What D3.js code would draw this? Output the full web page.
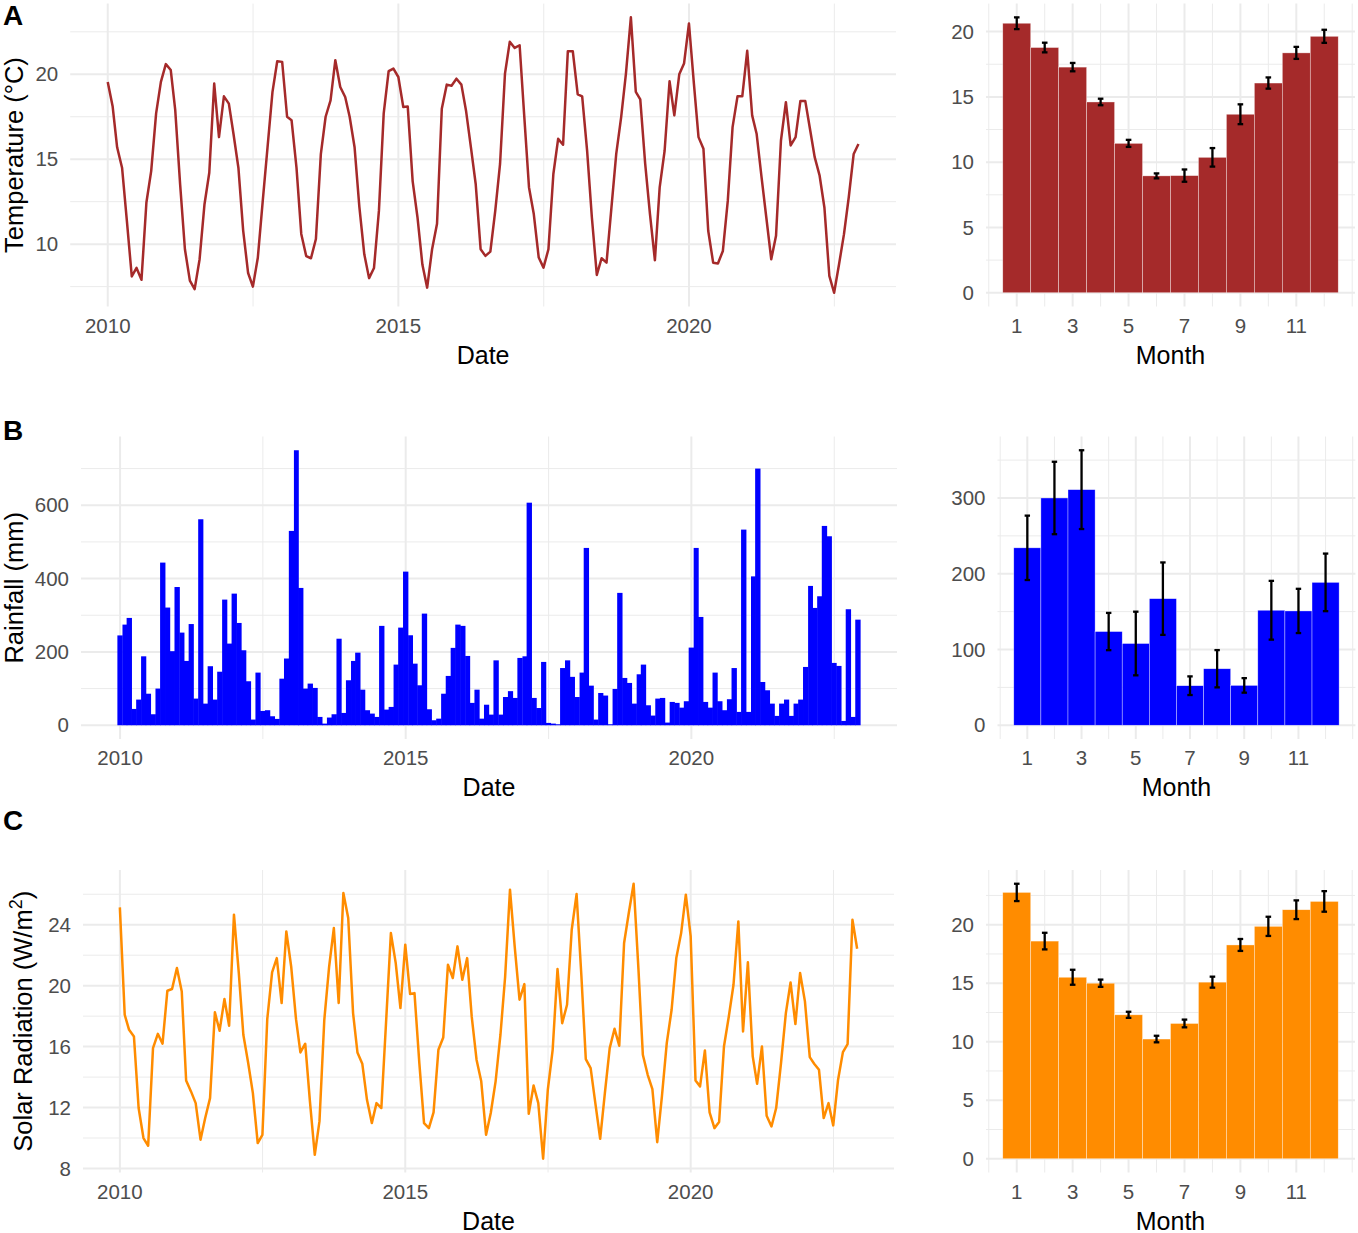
<!DOCTYPE html>
<html>
<head>
<meta charset="utf-8">
<script src="https://cdn.jsdelivr.net/npm/d3@7"></script>
<style>
  html, body { margin: 0; padding: 0; background: #fff; }
  svg { display: block; font-family: "Liberation Sans", Arial, sans-serif; }
</style>
</head>
<body>
<div id="chart"></div>
<script>
// ---------------------------------------------------------
// DATA (monthly series Jan 2010 - Dec 2022)
// ---------------------------------------------------------
const temperature = [
  19.55, 18.1, 15.7, 14.5, 11.4, 8.1, 8.6, 7.9, 12.45, 14.3, 17.7, 19.55,
  20.6, 20.25, 17.9, 13.5, 9.7, 7.85, 7.35, 9.1, 12.35, 14.2, 19.45, 16.3,
  18.7, 18.27, 16.5, 14.5, 10.8, 8.3, 7.5, 9.2, 12.55, 15.7, 18.95, 20.77,
  20.73, 17.5, 17.3, 14.5, 10.6, 9.3, 9.17, 10.3, 15.3, 17.5, 18.46, 20.83,
  19.25, 18.66, 17.5, 15.7, 12.2, 9.4, 8.0, 8.6, 11.97, 17.7, 20.18, 20.33,
  19.84, 18.07, 18.1, 13.7, 11.6, 8.8, 7.44, 9.7, 11.2, 17.97, 19.39, 19.33,
  19.74, 19.39, 17.87, 15.7, 13.54, 9.7, 9.31, 9.56, 11.97, 14.72, 20.04, 21.91,
  21.55, 21.71, 17.68, 13.34, 11.77, 9.21, 8.62, 9.7, 14.13, 16.2, 15.85, 21.36,
  21.36, 18.82, 18.7, 15.5, 11.57, 8.19, 9.17, 8.91, 12.16, 15.31, 17.48, 20.04,
  23.35, 18.96, 18.52, 14.72, 11.77, 9.05, 13.34, 15.5, 19.59, 17.58, 20.0, 20.63,
  22.99, 19.45, 16.3, 15.61, 10.79, 8.91, 8.86, 9.6, 12.56, 16.89, 18.7, 18.7,
  21.38, 17.58, 16.5, 13.94, 11.57, 9.11, 10.49, 16.1, 18.36, 15.81, 16.3, 18.42,
  18.42, 16.69, 15.12, 14.03, 12.16, 8.13, 7.14, 8.82, 10.59, 12.76, 15.31, 15.9
];

const rainfall = [
  245, 274.5, 292.7, 44.5, 70, 188, 86, 30, 100, 443.6, 321, 202,
  377, 252.7, 175.4, 276, 72.7, 561.8, 59, 161, 70, 146, 342.7, 222.7,
  359, 279, 204.5, 120, 15.5, 143.6, 39, 41, 24.5, 17.3, 127, 182,
  530, 750, 374.5, 100, 113.6, 101.8, 22.7, 4.5, 21, 30, 236, 33.6,
  122.7, 175.4, 198, 97, 41, 31.8, 22.7, 271, 42.7, 50, 165.4, 266.3,
  419, 245.4, 168, 109, 304.5, 43.6, 13.6, 18, 86, 134.5, 211, 274.5,
  271, 189, 61, 97, 18, 56, 29, 177, 29, 77, 93, 74.5,
  183.6, 188, 607, 74.5, 47, 172.7, 6.4, 4.5, 2.7, 156, 177, 132,
  77, 143.6, 483.6, 108, 15.5, 88, 81, 2.7, 99, 361, 129, 115.4,
  59, 139, 165.4, 54.5, 26.4, 72.7, 74.5, 7.3, 63.6, 61, 48, 65.5,
  211.8, 483.6, 295.4, 63.6, 48, 143.6, 65.5, 41, 71, 156, 36.4, 533.6,
  36.4, 406, 700, 118, 95.4, 59, 25.5, 59, 70, 25.5, 59, 70,
  159, 380, 320, 351.8, 543.6, 515.4, 170, 161.8, 11.8, 316.4, 22.7, 288
];

const solar = [
  25.14, 18.09, 17.1, 16.67, 11.97, 10.0, 9.49, 15.9, 16.84, 16.19, 19.67, 19.78,
  21.16, 19.62, 13.78, 13.06, 12.29, 9.89, 11.31, 12.62, 18.25, 17.04, 19.12, 17.37,
  24.66, 20.83, 16.78, 14.92, 12.95, 9.67, 10.21, 17.8, 20.87, 21.81, 18.86, 23.56,
  21.26, 17.8, 15.62, 16.19, 12.4, 8.9, 11.09, 17.76, 21.26, 23.78, 18.86, 26.08,
  24.44, 18.2, 15.62, 14.88, 12.51, 10.98, 12.29, 11.97, 17.76, 23.45, 21.48, 18.53,
  22.69, 19.45, 19.51, 14.92, 10.98, 10.65, 11.68, 15.79, 16.6, 21.37, 20.5, 22.58,
  20.39, 21.81, 17.98, 15.14, 13.72, 10.21, 11.64, 13.72, 16.78, 20.6, 26.3, 22.58,
  19.08, 20.1, 11.59, 13.45, 12.29, 8.64, 13.17, 15.79, 21.09, 17.54, 18.75, 23.67,
  26.01, 20.6, 15.18, 14.59, 12.29, 9.95, 12.95, 15.9, 17.17, 16.06, 22.8, 24.77,
  26.69, 21.05, 15.47, 14.15, 13.21, 9.73, 12.73, 16.23, 18.42, 21.81, 23.45, 25.97,
  23.23, 13.78, 13.39, 15.75, 11.68, 10.65, 11.05, 16.01, 17.98, 20.06, 24.22, 17.0,
  21.53, 15.36, 13.56, 16.01, 11.46, 10.76, 11.97, 14.92, 18.2, 20.21, 17.48, 20.83,
  18.97, 15.31, 14.88, 14.48, 11.31, 12.29, 10.83, 13.83, 15.64, 16.17, 24.33, 22.42
];

// monthly means and standard errors
const months     = [1, 2, 3, 4, 5, 6, 7, 8, 9, 10, 11, 12];
const tempMean   = [20.64, 18.78, 17.28, 14.61, 11.44, 8.95, 8.97, 10.37, 13.67, 16.06, 18.37, 19.64];
const tempSe     = [0.45, 0.37, 0.32, 0.25, 0.27, 0.19, 0.47, 0.71, 0.76, 0.43, 0.46, 0.5];
const rainMean   = [234.2, 300, 311, 123.7, 107.9, 167.1, 52.2, 74.6, 52.6, 151.8, 150.9, 188.6];
const rainSe     = [42.5, 47.8, 52, 24.6, 42, 47.8, 12.3, 24.6, 9.6, 38.8, 29.2, 38];
const solarMean  = [22.76, 18.6, 15.51, 15.0, 12.3, 10.23, 11.56, 15.09, 18.27, 19.86, 21.28, 21.99];
const solarSe    = [0.74, 0.71, 0.64, 0.31, 0.26, 0.28, 0.33, 0.47, 0.51, 0.82, 0.8, 0.88];

// tick labels
const yearTicks     = [2010, 2015, 2020];
const monthTicks    = [1, 3, 5, 7, 9, 11];
const tempTicks     = [10, 15, 20];
const rainTicks     = [0, 200, 400, 600];
const solarTicks    = [8, 12, 16, 20, 24];
const tempBarTicks  = [0, 5, 10, 15, 20];
const rainBarTicks  = [0, 100, 200, 300];
const solarBarTicks = [0, 5, 10, 15, 20];

const dates = d3.timeMonth.range(new Date(2010, 0, 1), new Date(2023, 0, 1));

// ---------------------------------------------------------
// SETUP
// ---------------------------------------------------------
const width = 1358, height = 1233;
const GRID = "#EBEBEB", TICK = "#4D4D4D";

const svg = d3.select("#chart").append("svg")
    .attr("width", width)
    .attr("height", height);

svg.append("rect").attr("width", width).attr("height", height).attr("fill", "#fff");

const panels = [
  { tag: "A", tagY: 25, top: 3.6, bottom: 306.5, lineX: [70.2, 896], barX: [986, 1355],
    values: temperature, kind: "line", color: "#A52A2A", ticks: tempTicks,
    title: "Temperature (°C)", titleX: 22.5,
    mean: tempMean, se: tempSe, barTicks: tempBarTicks },
  { tag: "B", tagY: 440, top: 436.5, bottom: 739, lineX: [81, 897], barX: [997.5, 1355.4],
    values: rainfall, kind: "bar", color: "#0000FF", ticks: rainTicks,
    title: "Rainfall (mm)", titleX: 22.5,
    mean: rainMean, se: rainSe, barTicks: rainBarTicks },
  { tag: "C", tagY: 830, top: 870, bottom: 1172.5, lineX: [83, 894], barX: [986, 1355],
    values: solar, kind: "line", color: "#FF8C00", ticks: solarTicks,
    title: "Solar Radiation (W/m", sup: "2", titleX: 31.5,
    mean: solarMean, se: solarSe, barTicks: solarBarTicks }
];

// ---------------------------------------------------------
// HELPERS
// ---------------------------------------------------------
function expand(lo, hi) {
  const d = (hi - lo) * 0.05;
  return [lo - d, hi + d];
}

// ggplot-style minor breaks: midpoints of majors extended by one step
function minorBreaks(major, domain) {
  const step = major[1] - major[0];
  const ext = [major[0] - step, ...major, major[major.length - 1] + step];
  const out = [];
  for (let i = 0; i < ext.length - 1; i++) out.push(ext[i], (ext[i] + ext[i + 1]) / 2);
  out.push(ext[ext.length - 1]);
  return out.filter(v => v >= domain[0] && v <= domain[1] && !major.includes(v));
}

function yearToDate(y) {
  const a = new Date(Math.floor(y), 0, 1), b = new Date(Math.floor(y) + 1, 0, 1);
  return new Date(+a + (+b - +a) * (y - Math.floor(y)));
}

function grid(g, x, y, xMajor, xMinor, yMajor, yMinor) {
  const [x0, x1] = x.range(), [y0, y1] = y.range();
  const h = (vals, w) => g.append("g").selectAll("line").data(vals).enter().append("line")
      .attr("x1", x0).attr("x2", x1)
      .attr("y1", d => y(d)).attr("y2", d => y(d))
      .attr("stroke", GRID).attr("stroke-width", w);
  const v = (vals, w) => g.append("g").selectAll("line").data(vals).enter().append("line")
      .attr("y1", y0).attr("y2", y1)
      .attr("x1", d => x(d)).attr("x2", d => x(d))
      .attr("stroke", GRID).attr("stroke-width", w);
  h(yMinor, 1); v(xMinor, 1);
  h(yMajor, 2); v(xMajor, 2);
}

function yLabels(g, y, ticks, left) {
  g.append("g").selectAll("text").data(ticks).enter().append("text")
      .attr("x", left - 12)
      .attr("y", d => y(d))
      .attr("dy", "0.35em")
      .attr("text-anchor", "end")
      .style("font-size", "20.5px")
      .style("fill", TICK)
      .text(d => d);
}

function xLabels(g, x, ticks, bottom, fmt) {
  g.append("g").selectAll("text").data(ticks).enter().append("text")
      .attr("x", d => x(d))
      .attr("y", bottom + 26)
      .attr("text-anchor", "middle")
      .style("font-size", "20.5px")
      .style("fill", TICK)
      .text(fmt);
}

function axisTitle(g, text, x, y) {
  g.append("text")
      .attr("x", x).attr("y", y)
      .attr("text-anchor", "middle")
      .style("font-size", "25px")
      .style("fill", "#000")
      .text(text);
}

// ---------------------------------------------------------
// DRAW ROWS
// ---------------------------------------------------------
panels.forEach(p => {
  const g = svg.append("g");

  // ---------- time series ----------
  const first = dates[0], last = dates[dates.length - 1];
  const pad = p.kind === "bar" ? 12.6 * 864e5 : 0;
  const xd = expand(+first - pad, +last + pad);
  const x = d3.scaleTime()
      .domain([new Date(xd[0]), new Date(xd[1])])
      .range(p.lineX);

  const yd = p.kind === "bar" ? expand(0, d3.max(p.values)) : expand(d3.min(p.values), d3.max(p.values));
  const y = d3.scaleLinear().domain(yd).range([p.bottom, p.top]);

  const yearMinor = minorBreaks(yearTicks, [2009, 2024])
      .map(yearToDate)
      .filter(d => d >= x.domain()[0] && d <= x.domain()[1]);
  grid(g, x, y, yearTicks.map(yearToDate), yearMinor, p.ticks, minorBreaks(p.ticks, yd));

  if (p.kind === "line") {
    const line = d3.line()
        .x((d, i) => x(dates[i]))
        .y(d => y(d));
    g.append("path")
        .datum(p.values)
        .attr("d", line)
        .attr("fill", "none")
        .attr("stroke", p.color)
        .attr("stroke-width", 2.5)
        .attr("stroke-linejoin", "round")
        .attr("stroke-linecap", "butt");
  } else {
    g.append("g").selectAll("rect").data(p.values).enter().append("rect")
        .attr("x", (d, i) => {
          const w = x(d3.timeMonth.offset(dates[i], 1)) - x(dates[i]);
          return x(dates[i]) - w / 2 - 0.25;
        })
        .attr("width", (d, i) => x(d3.timeMonth.offset(dates[i], 1)) - x(dates[i]) + 0.5)
        .attr("y", d => y(d))
        .attr("height", d => y(0) - y(d))
        .attr("fill", p.color);
  }

  yLabels(g, y, p.ticks, p.lineX[0]);
  xLabels(g, x, yearTicks.map(yearToDate), p.bottom, d => d.getFullYear());
  axisTitle(g, "Date", (p.lineX[0] + p.lineX[1]) / 2, p.bottom + 57);

  // y title (rotated)
  const cy = (p.top + p.bottom) / 2;
  const t = g.append("text")
      .attr("transform", `translate(${p.titleX},${cy}) rotate(-90)`)
      .attr("text-anchor", "middle")
      .style("font-size", "25.5px")
      .style("fill", "#000");
  t.append("tspan").text(p.title);
  if (p.sup) {
    t.append("tspan").attr("dy", -10).style("font-size", "18px").text(p.sup);
    t.append("tspan").attr("dy", 10).text(")");
  }

  // panel tag
  g.append("text")
      .attr("x", 3).attr("y", p.tagY)
      .style("font-size", "28px")
      .style("font-weight", "bold")
      .style("fill", "#000")
      .text(p.tag);

  // ---------- monthly bars ----------
  const xb = d3.scaleLinear().domain(expand(0.5, 12.5)).range(p.barX);
  const hi = d3.max(p.mean.map((m, i) => m + p.se[i]));
  const ybd = expand(0, hi);
  const yb = d3.scaleLinear().domain(ybd).range([p.bottom, p.top]);

  grid(g, xb, yb, monthTicks, minorBreaks(monthTicks, xb.domain()), p.barTicks, minorBreaks(p.barTicks, ybd));

  const bars = g.append("g").selectAll("g").data(months).enter().append("g");
  bars.append("rect")
      .attr("x", m => xb(m - 0.5))
      .attr("width", m => xb(m + 0.5) - xb(m - 0.5))
      .attr("y", (m, i) => yb(p.mean[i]))
      .attr("height", (m, i) => yb(0) - yb(p.mean[i]))
      .attr("fill", p.color)
      .attr("stroke", "#fff")
      .attr("stroke-opacity", 0.6)
      .attr("stroke-width", 0.6);

  bars.append("line")
      .attr("x1", m => xb(m)).attr("x2", m => xb(m))
      .attr("y1", (m, i) => yb(p.mean[i] - p.se[i]))
      .attr("y2", (m, i) => yb(p.mean[i] + p.se[i]))
      .attr("stroke", "#000").attr("stroke-width", 2.3);
  [-1, 1].forEach(s => {
    bars.append("line")
        .attr("x1", m => xb(m - 0.1)).attr("x2", m => xb(m + 0.1))
        .attr("y1", (m, i) => yb(p.mean[i] + s * p.se[i]))
        .attr("y2", (m, i) => yb(p.mean[i] + s * p.se[i]))
        .attr("stroke", "#000").attr("stroke-width", 2.3);
  });

  yLabels(g, yb, p.barTicks, p.barX[0]);
  xLabels(g, xb, monthTicks, p.bottom, d => d);
  axisTitle(g, "Month", (p.barX[0] + p.barX[1]) / 2, p.bottom + 57);
});
</script>
</body>
</html>
